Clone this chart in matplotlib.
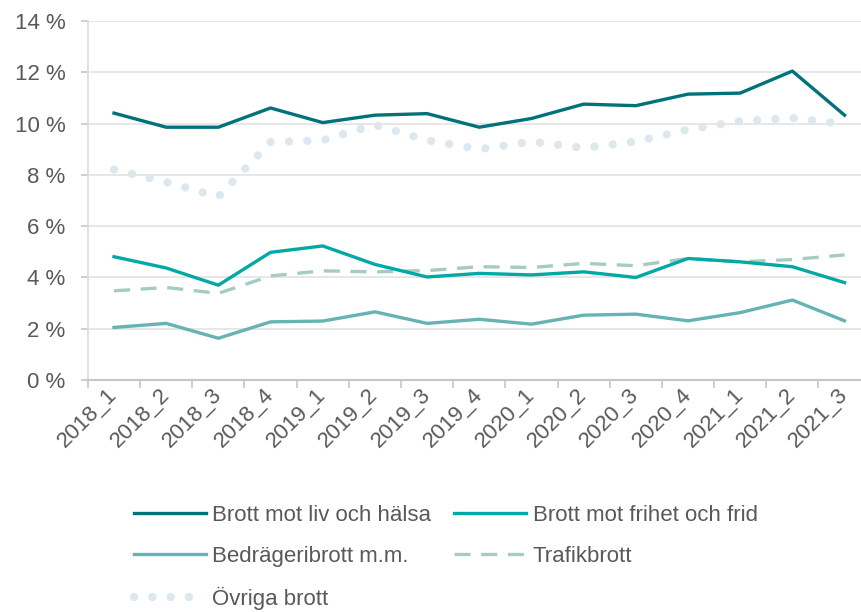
import matplotlib
matplotlib.use("Agg")
import matplotlib.pyplot as plt
import numpy as np

plt.rcParams["font.family"] = ["Liberation Sans", "DejaVu Sans"]

QUARTERS = [
    "2018_1", "2018_2", "2018_3", "2018_4",
    "2019_1", "2019_2", "2019_3", "2019_4",
    "2020_1", "2020_2", "2020_3", "2020_4",
    "2021_1", "2021_2", "2021_3",
]

LIV_HALSA = [10.41, 9.86, 9.86, 10.61, 10.04, 10.33, 10.39, 9.86, 10.2, 10.76, 10.7, 11.15, 11.19, 12.05, 10.33]
FRIHET_FRID = [4.81, 4.37, 3.70, 4.98, 5.23, 4.51, 4.02, 4.16, 4.10, 4.22, 4.00, 4.74, 4.61, 4.42, 3.80]
BEDRAGERI = [2.05, 2.21, 1.63, 2.27, 2.30, 2.66, 2.21, 2.37, 2.18, 2.53, 2.57, 2.31, 2.63, 3.12, 2.31]
TRAFIK = [3.48, 3.61, 3.38, 4.06, 4.26, 4.22, 4.27, 4.42, 4.39, 4.55, 4.46, 4.74, 4.61, 4.70, 4.88]
OVRIGA = [8.21, 7.72, 7.15, 9.28, 9.35, 9.95, 9.35, 9.0, 9.3, 9.05, 9.3, 9.77, 10.1, 10.22, 9.98]

Y_TICKS = [0, 2, 4, 6, 8, 10, 12, 14]

TEXT_COLOR = "#595959"
GRID_COLOR = "#e3e3e3"
SPINE_COLOR = "#c6c6c6"

fig = plt.figure(figsize=(8.62, 6.12), dpi=100)
ax = fig.add_axes([0.102, 0.379, 0.908, 0.5866])

x = np.arange(len(QUARTERS))
ax.plot(x, OVRIGA, color="#dde8ee", linewidth=6.0, linestyle=(0, (0.001, 2.2)),
        dash_capstyle="round", solid_capstyle="round", label="Övriga brott", zorder=2)
ax.plot(x, TRAFIK, color="#a6cbc1", linewidth=2.4, linestyle=(0, (4.8, 3.2)), label="Trafikbrott", zorder=3)
ax.plot(x, BEDRAGERI, color="#66b3b3", linewidth=2.4, label="Bedrägeribrott m.m.", zorder=3)
ax.plot(x, FRIHET_FRID, color="#00a9a6", linewidth=2.4, label="Brott mot frihet och frid", zorder=4)
ax.plot(x, LIV_HALSA, color="#00727a", linewidth=2.4, label="Brott mot liv och hälsa", zorder=5)

ax.set_xlim(-0.5, len(QUARTERS) - 0.5)
ax.set_ylim(0, 14)
ax.set_yticks(Y_TICKS)
ax.set_yticklabels([f"{v} %" for v in Y_TICKS])
ax.yaxis.grid(True, color=GRID_COLOR, linewidth=1.2)
ax.set_axisbelow(True)

ax.set_xticks(x)
ax.set_xticklabels(QUARTERS, rotation=45, ha="right", va="center", rotation_mode="anchor")
ax.set_xticks(np.arange(-0.5, len(QUARTERS), 1.0), minor=True)
ax.tick_params(axis="x", which="major", length=0, pad=8, labelsize=16, labelcolor=TEXT_COLOR)
ax.tick_params(axis="x", which="minor", length=6, width=1.2, color=SPINE_COLOR)
ax.tick_params(axis="y", length=5, width=1.2, color=SPINE_COLOR, labelsize=16, labelcolor=TEXT_COLOR, pad=11)

for side in ["top", "right"]:
    ax.spines[side].set_visible(False)
ax.spines["left"].set_color("#dcdcdc")
ax.spines["left"].set_linewidth(1.2)
ax.spines["bottom"].set_color(SPINE_COLOR)
ax.spines["bottom"].set_linewidth(1.5)

handles, labels = ax.get_legend_handles_labels()
lookup = dict(zip(labels, handles))
# legend fills columns first, so list the left column and then the right one
ordered = ["Brott mot liv och hälsa", "Bedrägeribrott m.m.", "Övriga brott",
           "Brott mot frihet och frid", "Trafikbrott"]
leg = fig.legend([lookup[k] for k in ordered], ordered, loc="upper left",
                 bbox_to_anchor=(0.155, 0.175), ncol=2, frameon=False,
                 fontsize=16, handlelength=3.25, handletextpad=0.3,
                 columnspacing=1.0, labelspacing=0.9, borderpad=0, borderaxespad=0)
for text in leg.get_texts():
    text.set_color(TEXT_COLOR)

fig.savefig("out.png", dpi=100)
